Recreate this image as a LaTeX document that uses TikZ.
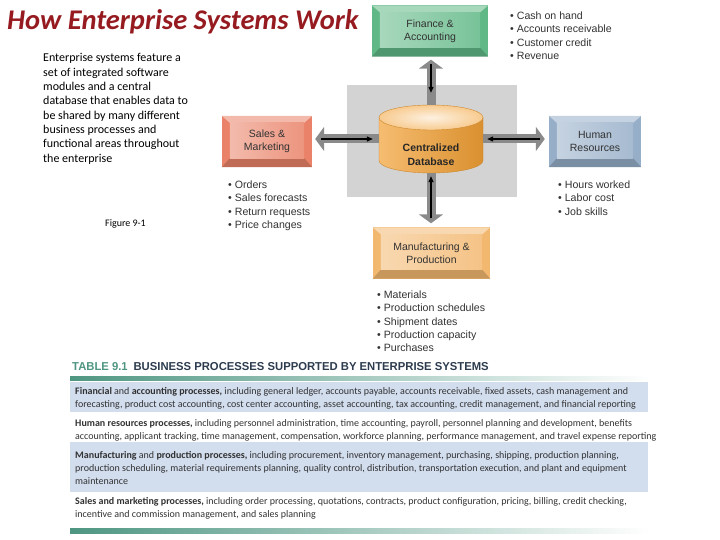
\documentclass[tikz,border=0pt]{standalone}
\usepackage{fontspec}
\setmainfont{Carlito}
\newfontfamily\arialfont{Liberation Sans}
\usepackage{graphicx}
\usetikzlibrary{arrows.meta,positioning,calc}
\definecolor{titlered}{RGB}{150,27,32}
\definecolor{fincol}{RGB}{96,184,134}
\definecolor{salescol}{RGB}{233,130,104}
\definecolor{hrcol}{RGB}{150,174,200}
\definecolor{mfgcol}{RGB}{243,184,112}
\definecolor{dbcol}{RGB}{242,160,52}
\definecolor{hubgray}{RGB}{211,211,211}
\definecolor{pipegray}{RGB}{138,138,138}
\definecolor{tabteal}{RGB}{78,150,130}
\definecolor{tabnavy}{RGB}{44,60,78}
\definecolor{rowblue}{RGB}{210,221,238}
\definecolor{listgray}{RGB}{50,50,50}

\tikzset{
  modbox/.style={rectangle, inner sep=0pt, minimum height=51pt},
  modtext/.style={font=\arialfont\fontsize{10.5}{13}\selectfont, text=listgray, align=center, inner sep=0pt},
  bullets/.style={font=\arialfont\fontsize{10.6}{13.1}\selectfont, text=listgray, align=left, anchor=north west, inner sep=0pt},
  pipe/.style={line width=9pt, pipegray, -{Triangle[length=9pt, width=24pt]}},
  flow/.style={line width=1.2pt, black, -{Triangle[length=6pt, width=5pt]}},
  rowtext/.style={anchor=north west, inner sep=0pt, text=listgray},
}

% module box with bevelled edges: name, position, width, colour, text
\newcommand{\bevelbox}[5]{%
  \node[modbox, minimum width=#3, fill=#4] (#1) at (#2) {};
  \fill[#4!55!white] (#1.north west) -- (#1.north east) -- ([shift={(-8,7)}]#1.north east) -- ([shift={(8,7)}]#1.north west) -- cycle;
  \fill[#4!82!black] (#1.south west) -- (#1.south east) -- ([shift={(-8,-9)}]#1.south east) -- ([shift={(8,-9)}]#1.south west) -- cycle;
  \shade[left color=#4!55!white, right color=#4!85!white] ([shift={(8,7)}]#1.north west) rectangle ([shift={(-8,-9)}]#1.south east);
  \node[modtext] (#1-text) at (#1.center) {#5};
}
\newcommand{\rowlines}[1]{\scalebox{1.0}[1]{\fontsize{10}{13}\selectfont\begin{tabular}{@{}l@{}}#1\end{tabular}}}

\begin{document}
\begin{tikzpicture}[x=1pt, y=-1pt]
  \useasboundingbox (0,0) rectangle (720,540);

  \node[anchor=west, inner sep=0pt, font=\bfseries\itshape\fontsize{28.5}{30}\selectfont, text=titlered] (title) at (7,21.5) {How Enterprise Systems Work};

  \node[anchor=north west, inner sep=0pt, align=left, font=\fontsize{12}{14.3}\selectfont] (intro) at (43,53.5) {Enterprise systems feature a\\set of integrated software\\modules and a central\\database that enables data to\\be shared by many different\\business processes and\\functional areas throughout\\the enterprise};
  \node[inner sep=0pt, font=\fontsize{10}{12}\selectfont] (figno) at (125.5,224) {Figure 9-1};

  % hub behind the database
  \fill[hubgray] (347,85) rectangle (517,197);

  % modules
  \bevelbox{fin}{430,31}{116pt}{fincol}{Finance \&\\Accounting}
  \bevelbox{sales}{267,141.5}{90pt}{salescol}{Sales \&\\Marketing}
  \bevelbox{hr}{595,141.5}{92pt}{hrcol}{Human\\Resources}
  \bevelbox{mfg}{431.5,253}{117pt}{mfgcol}{Manufacturing \&\\Production}

  % centralized database
  \shadedraw[left color=dbcol!70!white, middle color=dbcol, right color=dbcol!90!black, draw=dbcol!85!black, line width=0.4pt] (379,117.5) -- (379,160.5) arc[start angle=180, end angle=0, x radius=52, y radius=12.5] -- (483,117.5) -- cycle;
  \shadedraw[inner color=dbcol!15!white, outer color=dbcol!55!white, draw=dbcol!85!black, line width=0.4pt] (431,117.5) ellipse [x radius=52, y radius=12.5];
  \node[inner sep=0pt, minimum width=104pt, minimum height=68pt] (db) at (431,139) {};
  \node[modtext, font=\arialfont\bfseries\fontsize{10.5}{14}\selectfont, text=black!85] (db-text) at (431,155) {Centralized\\Database};

  % data pipes
  \draw[pipe, shorten >=3pt] (db.north) -- (db.north |- fin.south);
  \draw[pipe, shorten >=3pt] (db.west) -- (db.west -| sales.east);
  \draw[pipe, shorten >=4pt] (db.east) -- (db.east -| hr.west);
  \draw[pipe, shorten >=4pt] (db.south) -- (db.south |- mfg.north);
  \draw[flow, shorten <=7pt, shorten >=12pt] (db.north |- fin.south) -- (db.north);
  \draw[flow, shorten <=9pt, shorten >=6pt] (db.west -| sales.east) -- (db.west);
  \draw[flow, shorten <=9pt, shorten >=4pt] (db.east -| hr.west) -- (db.east);
  \draw[flow, shorten <=9pt, shorten >=3pt] (db.south |- mfg.north) -- (db.south);

  % data items
  \node[bullets] (fin-list) at (510,12) {• Cash on hand\\• Accounts receivable\\• Customer credit\\• Revenue};
  \node[bullets] (sales-list) at (228,181) {• Orders\\• Sales forecasts\\• Return requests\\• Price changes};
  \node[bullets] (hr-list) at (558,181) {• Hours worked\\• Labor cost\\• Job skills};
  \node[bullets] (mfg-list) at (377,291) {• Materials\\• Production schedules\\• Shipment dates\\• Production capacity\\• Purchases};

  % table 9.1
  \node[anchor=west, inner sep=0pt] (tab-title) at (72,367) {\scalebox{0.98}[1]{\arialfont\bfseries\fontsize{11.5}{13}\selectfont\textcolor{tabteal}{TABLE 9.1}\hspace{6pt}\textcolor{tabnavy}{BUSINESS PROCESSES SUPPORTED BY ENTERPRISE SYSTEMS}}};
  \shade[left color=tabteal, right color=white] (70,376) rectangle (650,380);
  \fill[rowblue] (70,382) rectangle (648,412);
  \fill[rowblue] (70,442) rectangle (648,492);
  \shade[left color=tabteal, right color=white] (70,528) rectangle (650,533);

  \node[rowtext] (row-fin) at (75,385.5) {\rowlines{\textbf{Financial} and \textbf{accounting processes,} including general ledger, accounts payable, accounts receivable, fixed assets, cash management and\\forecasting, product cost accounting, cost center accounting, asset accounting, tax accounting, credit management, and financial reporting}};
  \node[rowtext] (row-hr) at (75,417.4) {\rowlines{\textbf{Human resources processes,} including personnel administration, time accounting, payroll, personnel planning and development, benefits\\accounting, applicant tracking, time management, compensation, workforce planning, performance management, and travel expense reporting}};
  \node[rowtext] (row-mfg) at (75,449.4) {\rowlines{\textbf{Manufacturing} and \textbf{production processes,} including procurement, inventory management, purchasing, shipping, production planning,\\production scheduling, material requirements planning, quality control, distribution, transportation execution, and plant and equipment\\maintenance}};
  \node[rowtext] (row-sales) at (75,495.4) {\rowlines{\textbf{Sales and marketing processes,} including order processing, quotations, contracts, product configuration, pricing, billing, credit checking,\\incentive and commission management, and sales planning}};
\end{tikzpicture}
\end{document}
